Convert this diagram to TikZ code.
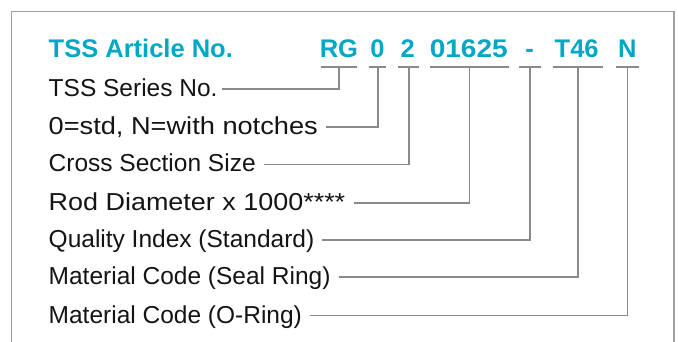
\documentclass[tikz,border=0pt]{standalone}
\usepackage{fontspec}
\setmainfont{Liberation Sans}
\usepackage{graphicx}
\definecolor{tsscyan}{RGB}{0,168,198}
\definecolor{linegray}{RGB}{138,138,138}
\definecolor{framegray}{RGB}{160,160,160}
\definecolor{txt}{RGB}{20,20,20}
\begin{document}
\begin{tikzpicture}[x=1pt,y=-1pt,
  titletext/.style={font=\fontsize{25.5}{30}\selectfont\bfseries, text=tsscyan, inner sep=0pt},
  codepart/.style={titletext, anchor=base},
  uline/.style={rectangle, fill=linegray, minimum height=2pt, inner sep=0pt, outer sep=0pt},
  lbl/.style={font=\fontsize{24.5}{30}\selectfont, text=txt, inner sep=0pt, text height=15pt, text depth=0pt, anchor=west},
  conn/.style={draw=linegray, line width=1.8pt, shorten >=8pt}]
\useasboundingbox (0,0) rectangle (678,342);
\draw[framegray, line width=1.5pt] (11.7,342) -- (11.7,11.7) -- (674,11.7) -- (674,342);
% title and code
\node[titletext, anchor=base west] (title) at (48.5,57.7) {TSS Article No.};
\node[codepart] (c1) at (338.9,57.7) {RG};
\node[codepart] (c2) at (377.5,57.7) {0};
\node[codepart] (c3) at (407.8,57.7) {2};
\node[codepart] (c4) at (468.8,57.7) {\scalebox{1.1}[1]{01625}};
\node[codepart] (c5) at (529.5,57.7) {-};
\node[codepart] (c6) at (576.7,57.7) {T46};
\node[codepart] (c7) at (627.3,57.7) {N};
% underlines
\node[uline, minimum width=36pt] (u1) at (338.7,67.3) {};
\node[uline, minimum width=16.7pt] (u2) at (377.7,67.3) {};
\node[uline, minimum width=21pt] (u3) at (408.8,67.3) {};
\node[uline, minimum width=78.3pt] (u4) at (469.4,67.3) {};
\node[uline, minimum width=21.4pt] (u5) at (530,67.3) {};
\node[uline, minimum width=50.6pt] (u6) at (578,67.3) {};
\node[uline, minimum width=23.6pt] (u7) at (627.5,67.3) {};
% labels
\node[lbl] (l1) at (48.5,89.3) {TSS Series No.};
\node[lbl] (l2) at (48.5,127) {\scalebox{1.11}[1]{0=std, N=with notches}};
\node[lbl] (l3) at (48.5,164.5) {Cross Section Size};
\node[lbl] (l4) at (48.5,203) {\scalebox{1.1}[1]{Rod Diameter x 1000****}};
\node[lbl] (l5) at (48.5,240) {Quality Index (Standard)};
\node[lbl] (l6) at (48.5,277.3) {Material Code (Seal Ring)};
\node[lbl] (l7) at (48.5,315.5) {Material Code (O-Ring)};
% connectors
\draw[conn, shorten >=4pt] (u1.center) |- (l1.east);
\draw[conn] (u2.center) |- (l2.east);
\draw[conn] (u3.center) |- (l3.east);
\draw[conn] (u4.center) |- (l4.east);
\draw[conn] (u5.center) |- (l5.east);
\draw[conn] (u6.center) |- (l6.east);
\draw[conn] (u7.center) |- (l7.east);
\end{tikzpicture}
\end{document}
